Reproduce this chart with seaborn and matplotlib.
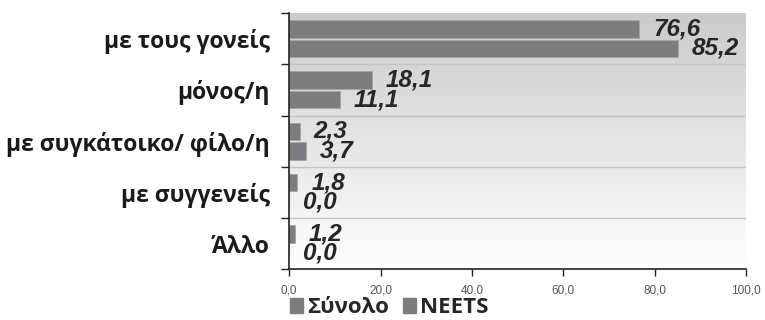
import matplotlib.pyplot as plt
import matplotlib.patches as mpatches
from matplotlib.colors import LinearSegmentedColormap
import numpy as np
import pandas as pd
import seaborn as sns

# Chart data
categories = ["με τους γονείς", "μόνος/η", "με συγκάτοικο/ φίλο/η", "με συγγενείς", "Άλλο"]
synolo = [76.6, 18.1, 2.3, 1.8, 1.2]
neets = [85.2, 11.1, 3.7, 0.0, 0.0]
series_names = ["Σύνολο", "NEETS"]
x_ticks = [0, 20, 40, 60, 80, 100]

df = pd.DataFrame({
    "cat": categories * 2,
    "value": synolo + neets,
    "series": [series_names[0]] * len(categories) + [series_names[1]] * len(categories),
})

bar_color = "#7d7d80"

sns.set_style("white")
plt.rcParams["font.family"] = ["Open Sans", "DejaVu Sans"]

fig = plt.figure(figsize=(7.65, 3.2), dpi=100)
ax = fig.add_axes([0.378, 0.159, 0.597, 0.800])

# gradient background (gray at top -> white at bottom)
cmap = LinearSegmentedColormap.from_list("bg", ["#cbcbcb", "#ffffff"])
grad = np.linspace(0, 1, 256).reshape(-1, 1)
ax.imshow(grad, extent=[0, 100, 4.5, -0.5], aspect="auto", cmap=cmap, zorder=0)

sns.barplot(data=df, y="cat", x="value", hue="series", orient="h",
            palette=[bar_color, bar_color], width=0.76, gap=0.1,
            edgecolor="#a5a5a5", linewidth=0.6, legend=False, ax=ax, zorder=2)

# separator lines between categories
for b in np.arange(0.5, len(categories) - 0.5, 1):
    ax.axhline(b, color="#c4c4c4", lw=1.0, zorder=1)

for cont, vals in zip(ax.containers, [synolo, neets]):
    ax.bar_label(cont, labels=[f"{v:.1f}".replace(".", ",") for v in vals],
                 padding=10, fontsize=17.5, fontstyle="italic", fontweight="bold",
                 family="Liberation Sans", color="#262626")

ax.set_xlim(0, 100)
ax.set_ylim(4.5, -0.5)
ax.set_xticks(x_ticks)
ax.set_xticklabels([f"{t:.1f}".replace(".", ",") for t in x_ticks],
                   fontsize=8.5, color="#555555", family="Liberation Sans")
ax.set_yticks(range(len(categories)))
ax.set_yticklabels(categories, fontsize=16.5, fontweight="bold", color="#1a1a1a")
ax.set_yticks(np.arange(-0.5, len(categories), 1), minor=True)
ax.tick_params(axis="y", which="major", length=0, pad=14)
ax.tick_params(axis="y", which="minor", length=6, width=1, color="#222222", direction="out", left=True)
ax.tick_params(axis="x", length=5, width=1, color="#222222", direction="out", bottom=True, pad=6)
ax.set_xlabel("")
ax.set_ylabel("")

for s in ["top", "right"]:
    ax.spines[s].set_visible(False)
for s in ["left", "bottom"]:
    ax.spines[s].set_color("#222222")
    ax.spines[s].set_linewidth(1.2)

handles = [mpatches.Patch(color=bar_color, label=n) for n in series_names]
fig.legend(handles=handles, loc="center left", bbox_to_anchor=(0.364, 0.038), ncol=2,
           frameon=False, borderpad=0, handlelength=0.6, handleheight=0.6, handletextpad=0.2,
           columnspacing=0.6, prop={"family": "Open Sans", "weight": "bold", "size": 16})

fig.savefig("out.png", dpi=100)
